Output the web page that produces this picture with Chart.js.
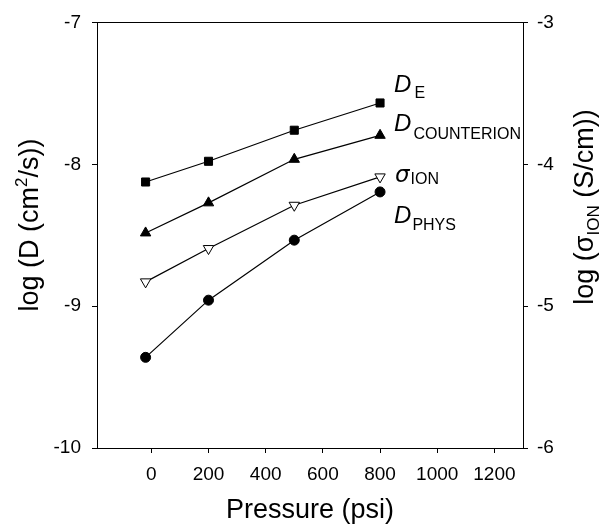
<!DOCTYPE html>
<html>
<head>
<meta charset="utf-8">
<style>
  html, body { margin: 0; padding: 0; background: #fff; }
  #wrap { width: 602px; height: 525px; }
</style>
<script src="https://cdn.jsdelivr.net/npm/chart.js@4"></script>
</head>
<body>
<div id="wrap"><canvas id="chart" width="602" height="525"></canvas></div>
<script>
/* -------- Data -------- */
const pressure = [-20, 200, 500, 800];
const dE = [-8.125, -7.979, -7.760, -7.568];
const dCounterion = [-8.484, -8.272, -7.965, -7.796];
const sigmaIon = [-4.829, -4.594, -4.289, -4.089];
const dPhys = [-9.361, -8.958, -8.535, -8.195];
const xTicks = [0, 200, 400, 600, 800, 1000, 1200];

const FONT = '"Liberation Sans", Arial, sans-serif';

function pts(ys) {
    return pressure.map((x, i) => ({ x: x, y: ys[i] }));
}

/* draw a run of text pieces (main + sub/superscripts) */
function pieceFont(p) {
    return (p.italic ? 'italic ' : '') + p.size + 'px ' + (p.family || FONT);
}
function richWidth(ctx, parts) {
    let w = 0;
    parts.forEach(p => {
        ctx.font = pieceFont(p);
        w += ctx.measureText(p.t).width + (p.gap || 0);
    });
    return w;
}
function drawRich(ctx, parts, x, y) {
    let cx = x;
    parts.forEach(p => {
        ctx.font = pieceFont(p);
        ctx.fillText(p.t, cx, y + (p.dy || 0));
        cx += ctx.measureText(p.t).width + (p.gap || 0);
    });
}

/* -------- Series labels, frame and axis titles -------- */
const seriesLabels = [
    { ds: 0, dx: 14, dy: -11, parts: [{ t: 'D', size: 24, italic: true, gap: 3 }, { t: 'E', size: 16, dy: 6 }] },
    { ds: 1, dx: 14, dy: -4, parts: [{ t: 'D', size: 24, italic: true, gap: 2 }, { t: 'COUNTERION', size: 16, dy: 8 }] },
    { ds: 2, dx: 15, dy: 5, parts: [{ t: 'σ', size: 23, italic: true, gap: 1, family: '"DejaVu Sans", sans-serif' }, { t: 'ION', size: 16, dy: 2 }] },
    { ds: 3, dx: 14, dy: 31, parts: [{ t: 'D', size: 24, italic: true, gap: 1 }, { t: 'PHYS', size: 16, dy: 7 }] }
];

const decorPlugin = {
    id: 'decor',
    afterDraw(chart) {
        const ctx = chart.ctx;
        const a = chart.chartArea;
        ctx.save();
        ctx.strokeStyle = '#000';
        ctx.lineWidth = 1;
        ctx.beginPath();
        ctx.moveTo(a.left - 5, Math.round(a.top) + 0.5);
        ctx.lineTo(a.right + 5, Math.round(a.top) + 0.5);
        ctx.stroke();

        ctx.fillStyle = '#000';
        ctx.textBaseline = 'alphabetic';
        ctx.textAlign = 'left';

        seriesLabels.forEach(l => {
            const meta = chart.getDatasetMeta(l.ds);
            const last = meta.data[meta.data.length - 1];
            drawRich(ctx, l.parts, last.x + l.dx, last.y + l.dy);
        });

        // x title
        const xt = [{ t: 'Pressure (psi)', size: 27 }];
        drawRich(ctx, xt, (a.left + a.right) / 2 - richWidth(ctx, xt) / 2, 518);

        // left title
        const lt = [{ t: 'log (D (cm', size: 27 }, { t: '2', size: 17, dy: -11 }, { t: '/s))', size: 27 }];
        ctx.save();
        ctx.translate(38, 225);
        ctx.rotate(-Math.PI / 2);
        drawRich(ctx, lt, -richWidth(ctx, lt) / 2, 0);
        ctx.restore();

        // right title
        const rt = [{ t: 'log (σ', size: 27 }, { t: 'ION', size: 17, dy: 6 }, { t: ' (S/cm))', size: 27 }];
        ctx.save();
        ctx.translate(593, 207);
        ctx.rotate(-Math.PI / 2);
        drawRich(ctx, rt, -richWidth(ctx, rt) / 2, 0);
        ctx.restore();

        ctx.restore();
    }
};

const lineBase = {
    borderColor: '#000',
    borderWidth: 1.2,
    pointBorderColor: '#000',
    pointBorderWidth: 1,
    fill: false,
    tension: 0,
    clip: false
};

const tickFont = { family: FONT, size: 19 };
const plainLabel = v => String(v);

new Chart(document.getElementById('chart').getContext('2d'), {
    type: 'line',
    data: {
        datasets: [
            Object.assign({}, lineBase, { label: 'D_E', data: pts(dE), pointStyle: 'rect', pointRadius: 5.7, pointBackgroundColor: '#000', yAxisID: 'y' }),
            Object.assign({}, lineBase, { label: 'D_COUNTERION', data: pts(dCounterion), pointStyle: 'triangle', pointRadius: 6, pointBackgroundColor: '#000', yAxisID: 'y' }),
            Object.assign({}, lineBase, { label: 'sigma_ION', data: pts(sigmaIon), pointStyle: 'triangle', pointRotation: 180, pointRadius: 6, pointBackgroundColor: '#fff', yAxisID: 'y2' }),
            Object.assign({}, lineBase, { label: 'D_PHYS', data: pts(dPhys), pointStyle: 'circle', pointRadius: 5, pointBackgroundColor: '#000', yAxisID: 'y' })
        ]
    },
    options: {
        responsive: false,
        animation: false,
        layout: { padding: { top: 22, left: 0, right: 0, bottom: 0 } },
        plugins: { legend: { display: false }, tooltip: { enabled: false } },
        scales: {
            x: {
                type: 'linear',
                min: -190,
                max: 1300,
                afterBuildTicks: axis => { axis.ticks = xTicks.map(v => ({ value: v })); },
                afterFit: axis => { axis.height = 77; },
                grid: { drawOnChartArea: false, drawTicks: true, tickLength: 5, color: '#000' },
                border: { display: true, color: '#000', width: 1 },
                ticks: { color: '#000', font: tickFont, padding: 10, maxRotation: 0, callback: plainLabel }
            },
            y: {
                type: 'linear',
                position: 'left',
                min: -10,
                max: -7,
                afterFit: axis => { axis.width = 97; },
                grid: { drawOnChartArea: false, drawTicks: true, tickLength: 5, color: '#000' },
                border: { display: true, color: '#000', width: 1 },
                ticks: { color: '#000', font: tickFont, padding: 11, stepSize: 1, callback: plainLabel }
            },
            y2: {
                type: 'linear',
                position: 'right',
                min: -6,
                max: -3,
                afterFit: axis => { axis.width = 79; },
                grid: { drawOnChartArea: false, drawTicks: true, tickLength: 5, color: '#000' },
                border: { display: true, color: '#000', width: 1 },
                ticks: { color: '#000', font: tickFont, padding: 9, stepSize: 1, callback: plainLabel }
            }
        }
    },
    plugins: [decorPlugin]
});
</script>
</body>
</html>
